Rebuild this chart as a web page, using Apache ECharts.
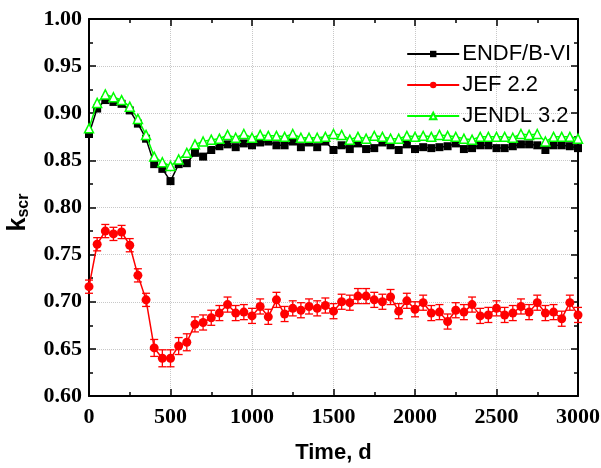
<!DOCTYPE html>
<html>
<head>
<meta charset="utf-8">
<script src="https://cdn.jsdelivr.net/npm/echarts@6/dist/echarts.min.js"></script>
<style>html,body{margin:0;padding:0;background:#fff;}#c{width:601px;height:468px;}</style>
</head>
<body>
<div id="c"></div>
<script>
var timeDays = [0,50,100,150,200,250,300,350,400,450,500,550,600,650,700,750,800,850,900,950,
  1000,1050,1100,1150,1200,1250,1300,1350,1400,1450,1500,1550,1600,1650,1700,1750,1800,1850,1900,1950,
  2000,2050,2100,2150,2200,2250,2300,2350,2400,2450,2500,2550,2600,2650,2700,2750,2800,2850,2900,2950,3000];

var endfValues = [0.878,0.905,0.914,0.912,0.910,0.903,0.889,0.873,0.846,0.841,0.828,0.846,0.847,0.858,0.854,0.861,0.865,0.867,0.864,0.868,
  0.866,0.869,0.870,0.866,0.866,0.870,0.864,0.869,0.864,0.870,0.861,0.866,0.862,0.868,0.862,0.863,0.869,0.866,0.861,0.867,
  0.862,0.864,0.863,0.864,0.865,0.868,0.862,0.863,0.866,0.866,0.863,0.863,0.865,0.867,0.867,0.866,0.861,0.866,0.866,0.865,0.863];

var jefValues = [0.716,0.761,0.775,0.772,0.774,0.760,0.728,0.702,0.651,0.640,0.640,0.653,0.657,0.676,0.678,0.683,0.688,0.697,0.688,0.689,
  0.685,0.695,0.684,0.702,0.687,0.693,0.691,0.695,0.693,0.696,0.690,0.700,0.699,0.706,0.706,0.702,0.700,0.705,0.690,0.701,
  0.692,0.699,0.688,0.689,0.679,0.691,0.689,0.697,0.685,0.686,0.693,0.686,0.688,0.695,0.689,0.699,0.688,0.689,0.682,0.699,0.686];

var jefErrors = [0.007,0.007,0.007,0.007,0.007,0.007,0.007,0.007,0.009,0.009,0.009,0.009,0.009,0.008,0.008,0.008,0.008,0.008,0.008,0.008,
  0.008,0.008,0.008,0.008,0.008,0.008,0.008,0.008,0.008,0.008,0.008,0.008,0.008,0.008,0.008,0.008,0.008,0.008,0.008,0.008,
  0.008,0.008,0.008,0.008,0.008,0.008,0.008,0.008,0.008,0.008,0.008,0.008,0.008,0.008,0.008,0.008,0.008,0.008,0.008,0.008,0.008];

var jendlValues = [0.884,0.911,0.920,0.917,0.914,0.907,0.894,0.877,0.854,0.848,0.844,0.851,0.858,0.867,0.870,0.872,0.873,0.877,0.874,0.878,
  0.874,0.877,0.876,0.876,0.875,0.878,0.874,0.874,0.874,0.875,0.878,0.877,0.872,0.875,0.873,0.876,0.875,0.873,0.873,0.876,
  0.875,0.876,0.875,0.877,0.876,0.875,0.873,0.872,0.875,0.875,0.875,0.875,0.874,0.878,0.877,0.878,0.870,0.875,0.875,0.875,0.873];

var seriesNames = ['ENDF/B-VI', 'JEF 2.2', 'JENDL 3.2'];

function pairs(vals){ return timeDays.map(function(t,i){ return [t, vals[i]]; }); }
var errData = timeDays.map(function(t,i){ return [t, jefValues[i]-jefErrors[i], jefValues[i]+jefErrors[i]]; });

var chart = echarts.init(document.getElementById('c'), null, {renderer:'canvas'});
var tickFont = {fontFamily:'Liberation Serif', fontWeight:'bold', fontSize:22, color:'#000'};
var frameLine = {show:true, onZero:false, lineStyle:{color:'#000', width:2}};

chart.setOption({
  animation:false,
  backgroundColor:'#fff',
  grid:{left:89, right:23, top:19, bottom:72, containLabel:false, outerBoundsMode:'none'},
  legend:{
    orient:'vertical', right:25, top:38, itemWidth:52, itemHeight:8, itemGap:9,
    align:'left',
    textStyle:{fontFamily:'Liberation Sans', fontSize:22, color:'#000', padding:[0,0,0,-2]},
    data:seriesNames
  },
  xAxis:[{
    type:'value', min:0, max:3000, interval:500,
    name:'Time, d', nameLocation:'middle', nameGap:46,
    nameTextStyle:{fontFamily:'Liberation Sans', fontWeight:'bold', fontSize:22, color:'#000'},
    axisLine:frameLine,
    axisTick:{show:true, inside:true, length:7, lineStyle:{color:'#000', width:1.5}},
    minorTick:{show:true, splitNumber:2, length:4, lineStyle:{color:'#000', width:1.5}},
    axisLabel:Object.assign({margin:10, formatter:function(v){return String(v);}}, tickFont),
    splitLine:{show:true, lineStyle:{color:'#c8c8c8', type:'dotted', width:1}}
  },{
    type:'value', position:'top', min:0, max:3000, interval:500,
    axisLine:frameLine,
    axisTick:{show:true, inside:true, length:7, lineStyle:{color:'#000', width:1.5}},
    minorTick:{show:true, splitNumber:2, length:4, lineStyle:{color:'#000', width:1.5}},
    axisLabel:{show:false}, splitLine:{show:false}
  }],
  yAxis:[{
    type:'value', min:0.6, max:1.0, interval:0.05,
    name:'{k|k}{s|scr}', nameLocation:'middle', nameGap:56, nameRotate:90,
    nameTextStyle:{rich:{
      k:{fontFamily:'Liberation Sans', fontWeight:'bold', fontSize:25, color:'#000', lineHeight:30},
      s:{fontFamily:'Liberation Sans', fontWeight:'bold', fontSize:16, color:'#000', lineHeight:30, padding:[12,10,0,0]}
    }},
    axisLine:frameLine,
    axisTick:{show:true, inside:true, length:7, lineStyle:{color:'#000', width:1.5}},
    minorTick:{show:true, splitNumber:2, length:4, lineStyle:{color:'#000', width:1.5}},
    axisLabel:Object.assign({margin:7, formatter:function(v){return v.toFixed(2);}}, tickFont),
    splitLine:{show:true, lineStyle:{color:'#c8c8c8', type:'dotted', width:1}}
  },{
    type:'value', position:'right', min:0.6, max:1.0, interval:0.05,
    axisLine:frameLine,
    axisTick:{show:true, inside:true, length:7, lineStyle:{color:'#000', width:1.5}},
    minorTick:{show:true, splitNumber:2, length:4, lineStyle:{color:'#000', width:1.5}},
    axisLabel:{show:false}, splitLine:{show:false}
  }],
  series:[
    {
      name:seriesNames[0], type:'line', data:pairs(endfValues),
      symbol:'rect', symbolSize:8, z:3,
      lineStyle:{color:'#000', width:1.5}, itemStyle:{color:'#000'}
    },
    {
      type:'custom', data:errData, z:2, silent:true,
      renderItem:function(params, api){
        var x = api.value(0);
        var lo = api.coord([x, api.value(1)]);
        var hi = api.coord([x, api.value(2)]);
        var st = {stroke:'#ff0000', lineWidth:1.3};
        var cw = 4;
        return {type:'group', children:[
          {type:'line', shape:{x1:lo[0], y1:lo[1], x2:hi[0], y2:hi[1]}, style:st},
          {type:'line', shape:{x1:lo[0]-cw, y1:lo[1], x2:lo[0]+cw, y2:lo[1]}, style:st},
          {type:'line', shape:{x1:hi[0]-cw, y1:hi[1], x2:hi[0]+cw, y2:hi[1]}, style:st}
        ]};
      }
    },
    {
      name:seriesNames[1], type:'line', data:pairs(jefValues),
      symbol:'circle', symbolSize:9, z:3,
      lineStyle:{color:'#ff0000', width:1.5}, itemStyle:{color:'#ff0000'}
    },
    {
      name:seriesNames[2], type:'line', data:pairs(jendlValues),
      symbol:'triangle', symbolSize:9, z:4,
      lineStyle:{color:'#00ff00', width:1.5},
      itemStyle:{color:'#ffffff', borderColor:'#00ff00', borderWidth:1.5}
    }
  ]
});
</script>
</body>
</html>
